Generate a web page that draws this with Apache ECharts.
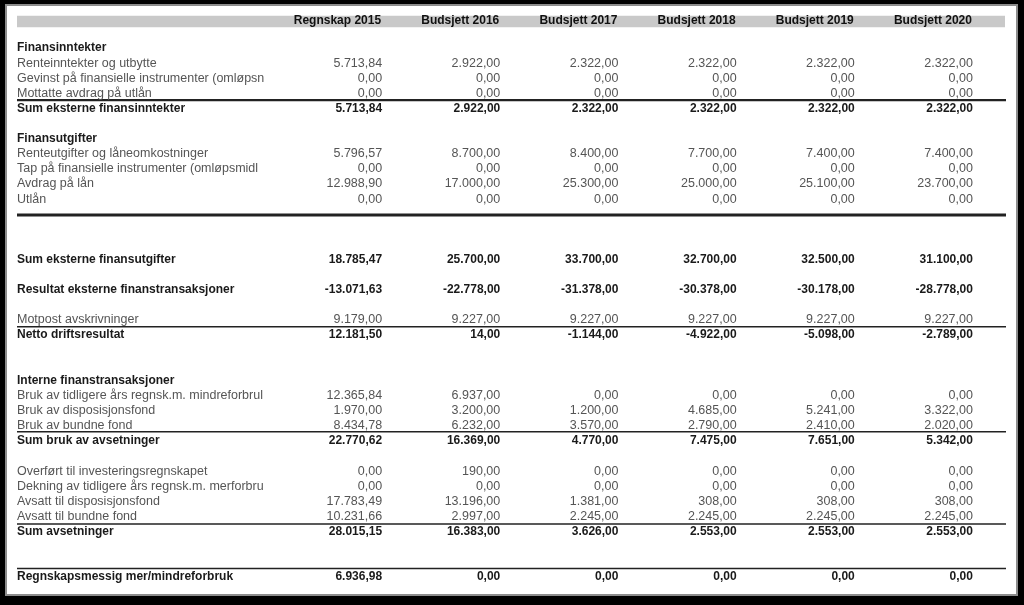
<!DOCTYPE html>
<html><head><meta charset="utf-8">
<script src="https://cdn.jsdelivr.net/npm/echarts@6/dist/echarts.min.js"></script>
<style>html,body{margin:0;padding:0;background:#000;}#c{width:1024px;height:605px;}</style>
</head><body><div id="c"></div>
<script>
// ---------- data ----------
const columnHeaders = ['Regnskap 2015','Budsjett 2016','Budsjett 2017','Budsjett 2018','Budsjett 2019','Budsjett 2020'];

const rowLabels = [
  'Finansinntekter',
  'Renteinntekter og utbytte',
  'Gevinst på finansielle instrumenter (omløpsn',
  'Mottatte avdrag på utlån',
  'Sum eksterne finansinntekter',
  '',
  'Finansutgifter',
  'Renteutgifter og låneomkostninger',
  'Tap på finansielle instrumenter (omløpsmidl',
  'Avdrag på lån',
  'Utlån',
  '', '', '',
  'Sum eksterne finansutgifter',
  '',
  'Resultat eksterne finanstransaksjoner',
  '',
  'Motpost avskrivninger',
  'Netto driftsresultat',
  '', '',
  'Interne finanstransaksjoner',
  'Bruk av tidligere års regnsk.m. mindreforbrul',
  'Bruk av disposisjonsfond',
  'Bruk av bundne fond',
  'Sum bruk av avsetninger',
  '',
  'Overført til investeringsregnskapet',
  'Dekning av tidligere års regnsk.m. merforbru',
  'Avsatt til disposisjonsfond',
  'Avsatt til bundne fond',
  'Sum avsetninger',
  '', '',
  'Regnskapsmessig mer/mindreforbruk'
];
const boldRows = [0, 4, 6, 14, 16, 19, 22, 26, 32, 35];

const _ = null;
const regnskap2015 = [_, 5713.84, 0, 0, 5713.84, _, _, 5796.57, 0, 12988.90, 0, _, _, _, 18785.47, _, -13071.63, _, 9179.00, 12181.50, _, _, _, 12365.84, 1970.00, 8434.78, 22770.62, _, 0, 0, 17783.49, 10231.66, 28015.15, _, _, 6936.98];
const budsjett2016 = [_, 2922, 0, 0, 2922, _, _, 8700, 0, 17000, 0, _, _, _, 25700, _, -22778, _, 9227, 14, _, _, _, 6937, 3200, 6232, 16369, _, 190, 0, 13196, 2997, 16383, _, _, 0];
const budsjett2017 = [_, 2322, 0, 0, 2322, _, _, 8400, 0, 25300, 0, _, _, _, 33700, _, -31378, _, 9227, -1144, _, _, _, 0, 1200, 3570, 4770, _, 0, 0, 1381, 2245, 3626, _, _, 0];
const budsjett2018 = [_, 2322, 0, 0, 2322, _, _, 7700, 0, 25000, 0, _, _, _, 32700, _, -30378, _, 9227, -4922, _, _, _, 0, 4685, 2790, 7475, _, 0, 0, 308, 2245, 2553, _, _, 0];
const budsjett2019 = [_, 2322, 0, 0, 2322, _, _, 7400, 0, 25100, 0, _, _, _, 32500, _, -30178, _, 9227, -5098, _, _, _, 0, 5241, 2410, 7651, _, 0, 0, 308, 2245, 2553, _, _, 0];
const budsjett2020 = [_, 2322, 0, 0, 2322, _, _, 7400, 0, 23700, 0, _, _, _, 31100, _, -28778, _, 9227, -2789, _, _, _, 0, 3322, 2020, 5342, _, 0, 0, 308, 2245, 2553, _, _, 0];

// border rules below rows (row units) and their kind
const ruleRows  = [3.45, 11.05, 18.45, 25.4, 31.5, 34.45];
const ruleKinds = ['medium', 'heavy', 'thin', 'thin', 'thin', 'thin'];

// ---------- build ----------
const columns = [regnskap2015, budsjett2016, budsjett2017, budsjett2018, budsjett2019, budsjett2020];
const HEADER_ROW = -1.8;
const FONT = '"Liberation Sans", Arial, sans-serif';

function fmt(v) {
  const neg = v < 0;
  const parts = Math.abs(v).toFixed(2).split('.');
  const i = parts[0].replace(/\B(?=(\d{3})+(?!\d))/g, '.');
  return (neg ? '-' : '') + i + ',' + parts[1];
}

const cells = [];
columns.forEach((col, ci) => {
  col.forEach((v, r) => {
    if (v !== null) cells.push([ci + 1, r, v, boldRows.indexOf(r) >= 0 ? 1 : 0]);
  });
});
const labelItems = rowLabels.map((t, r) => [0, r]).filter((d) => rowLabels[d[1]] !== '');
const headerItems = columnHeaders.map((h, i) => [i + 1, HEADER_ROW]);
const ruleItems = ruleRows.map((r, i) => [0, r, i]);

const chart = echarts.init(document.getElementById('c'));
chart.setOption({
  backgroundColor: '#000',
  animation: false,
  graphic: [{
    type: 'rect', z: -10,
    shape: { x: 6, y: 5, width: 1011, height: 590 },
    style: { fill: '#fff', stroke: '#8c8c8c', lineWidth: 2 }
  }],
  grid: { left: 17, right: 18, top: 5, bottom: 7 },
  xAxis: { type: 'value', min: -2.09, max: 6.28, show: false },
  yAxis: { type: 'value', min: -2.85, max: 36.4, inverse: true, show: false },
  series: [
    { // header band
      type: 'custom', silent: true, z: 1,
      data: [[0, HEADER_ROW]],
      encode: { x: 0, y: 1 },
      renderItem: function (params, api) {
        const cs = params.coordSys;
        const top = api.coord([0, HEADER_ROW - 0.34])[1];
        const bot = api.coord([0, HEADER_ROW + 0.42])[1];
        return { type: 'rect', shape: { x: cs.x, y: top, width: cs.width - 1, height: bot - top }, style: { fill: '#c9c9c9' } };
      }
    },
    { // header texts
      type: 'custom', silent: true, z: 3,
      data: headerItems,
      encode: { x: 0, y: 1 },
      renderItem: function (params, api) {
        const p = api.coord([api.value(0), api.value(1)]);
        return { type: 'text', x: p[0] - 1, y: p[1], style: {
          text: columnHeaders[params.dataIndex], align: 'right', verticalAlign: 'middle',
          fill: '#111', fontFamily: FONT, fontWeight: 'bold', fontSize: 12 } };
      }
    },
    { // row labels
      type: 'custom', silent: true, z: 3,
      data: labelItems,
      encode: { x: 0, y: 1 },
      renderItem: function (params, api) {
        const r = api.value(1);
        const p = api.coord([0, r]);
        const bold = boldRows.indexOf(r) >= 0;
        return { type: 'text', x: params.coordSys.x, y: p[1], style: {
          text: rowLabels[r], align: 'left', verticalAlign: 'middle',
          fill: bold ? '#1a1a1a' : '#555', fontFamily: FONT,
          fontWeight: bold ? 'bold' : 'normal', fontSize: bold ? 12 : 12.5 } };
      }
    },
    { // values
      type: 'custom', silent: true, z: 3,
      data: cells,
      encode: { x: 0, y: 1 },
      renderItem: function (params, api) {
        const c = cells[params.dataIndex];
        const p = api.coord([c[0], c[1]]);
        const bold = c[3] === 1;
        return { type: 'text', x: p[0], y: p[1], style: {
          text: fmt(c[2]), align: 'right', verticalAlign: 'middle',
          fill: bold ? '#1a1a1a' : '#555', fontFamily: FONT,
          fontWeight: bold ? 'bold' : 'normal', fontSize: bold ? 12 : 12.5 } };
      }
    },
    { // border rules
      type: 'custom', silent: true, z: 2,
      data: ruleItems,
      encode: { x: 0, y: 1 },
      renderItem: function (params, api) {
        const cs = params.coordSys;
        const y = api.coord([0, api.value(1)])[1];
        const kind = ruleKinds[params.dataIndex];
        const w = kind === 'heavy' ? 3 : kind === 'medium' ? 2.2 : 1.6;
        return { type: 'line', shape: { x1: cs.x, y1: y, x2: cs.x + cs.width, y2: y },
          style: { stroke: '#222', lineWidth: w } };
      }
    }
  ]
});
</script></body></html>
